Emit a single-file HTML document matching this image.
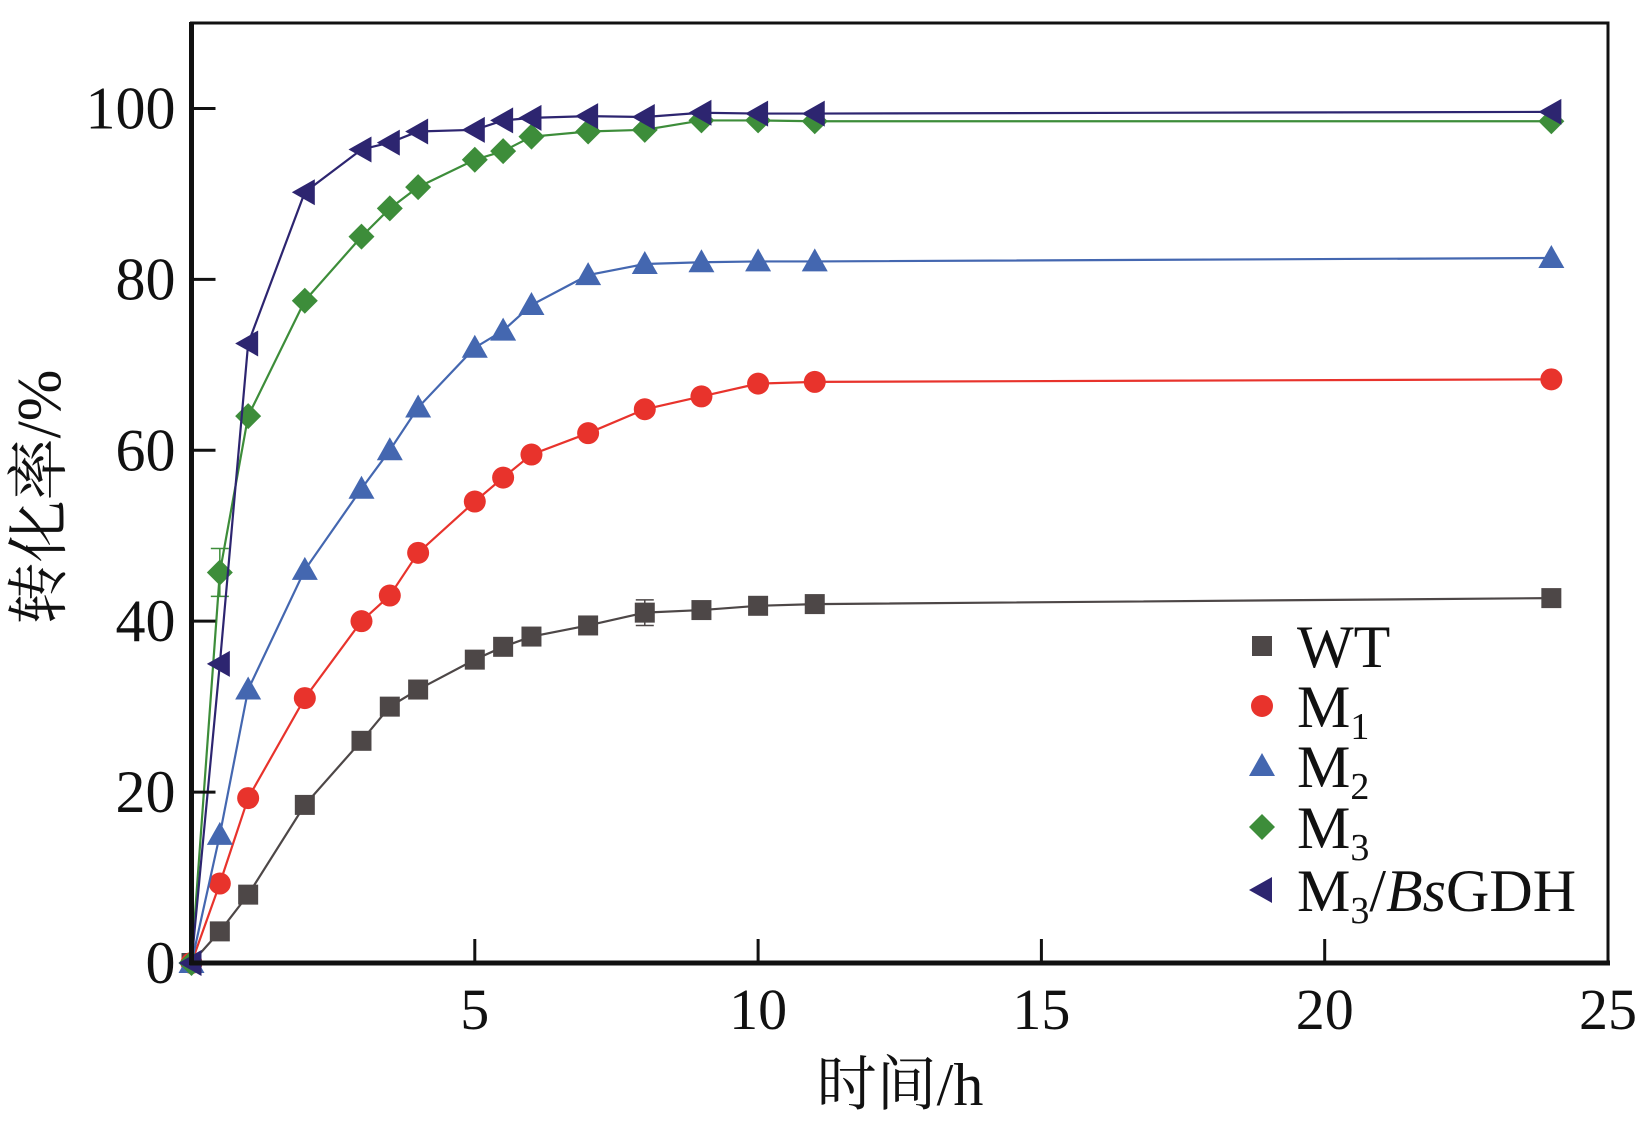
<!DOCTYPE html>
<html><head><meta charset="utf-8"><style>
html,body{margin:0;padding:0;background:#fff;}
svg{display:block;}
text{font-family:"Liberation Serif","Noto Serif CJK SC",serif;fill:#111;}
</style></head><body>
<svg id="chart" width="1651" height="1125" viewBox="0 0 1651 1125" xmlns="http://www.w3.org/2000/svg">
<g id="marks"></g>
<g id="axes"></g>
<g id="legend"></g>
</svg>
<script>
const times = [0,0.5,1,2,3,3.5,4,5,5.5,6,7,8,9,10,11,24];
const wtValues = [0,3.7,8,18.5,26,30,32,35.5,37,38.2,39.5,41,41.3,41.8,42,42.7];
const m1Values = [0,9.3,19.3,31,40,43,48,54,56.8,59.5,62,64.8,66.3,67.8,68,68.3];
const m2Values = [0,15,32,46,55.5,60,65,72,74,77,80.5,81.8,82,82.1,82.1,82.5];
const m3Values = [0,45.7,64,77.5,85,88.3,90.8,94,95,96.7,97.3,97.5,98.6,98.6,98.5,98.5];
const gdhValues = [0,35,72.5,90.2,95.2,96,97.3,97.5,98.6,98.9,99.1,99,99.5,99.4,99.4,99.6];
const wtErrors = [0,0.3,0.4,0.5,0.5,0.5,0.8,0.5,0.5,0.5,0.5,1.5,0.5,0.5,0.5,0.5];
const m3Errors = [0,2.8,0.8,0.5,0.5,0.5,0.5,0.5,0.5,0.5,0.5,0.5,0.5,0.5,0.5,0.5];
const xTicks = [5,10,15,20,25];
const yTicks = [0,20,40,60,80,100];
const legendLabels = ["WT","M1","M2","M3","M3/BsGDH"];

const X0=191.5, X1=1608, Y0=963, YT=23;
const xMin=0,xMax=25,yMin=0,yMax=110;
function sx(v){return X0+(v-xMin)/(xMax-xMin)*(X1-X0);}
function sy(v){return Y0-(v-yMin)/(yMax-yMin)*(Y0-YT);}
const NS="http://www.w3.org/2000/svg";
function mk(tag,attrs,parent){const e=document.createElementNS(NS,tag);for(const k in attrs)e.setAttribute(k,attrs[k]);if(parent)parent.appendChild(e);return e;}
const marks=document.getElementById('marks'),axes=document.getElementById('axes'),legend=document.getElementById('legend');

const series=[
 {name:'wt',vals:wtValues,err:wtErrors,color:'#4d4747',shape:'square'},
 {name:'m1',vals:m1Values,err:null,color:'#e8332c',shape:'circle'},
 {name:'m2',vals:m2Values,err:null,color:'#4467b0',shape:'triangle'},
 {name:'m3',vals:m3Values,err:m3Errors,color:'#3d8d3a',shape:'diamond'},
 {name:'m3-bsgdh',vals:gdhValues,err:null,color:'#2d2570',shape:'left'}
];
function marker(shape,cx,cy,color,parent){
  let e;
  if(shape==='square') e=mk('rect',{x:cx-10,y:cy-10,width:20,height:20,fill:color},parent);
  else if(shape==='circle') e=mk('circle',{cx:cx,cy:cy,r:11,fill:color},parent);
  else if(shape==='triangle') e=mk('polygon',{points:`${cx},${cy-13} ${cx+13},${cy+10} ${cx-13},${cy+10}`,fill:color},parent);
  else if(shape==='diamond') e=mk('polygon',{points:`${cx},${cy-13} ${cx+13},${cy} ${cx},${cy+13} ${cx-13},${cy}`,fill:color},parent);
  else e=mk('polygon',{points:`${cx-13},${cy} ${cx+10},${cy-13} ${cx+10},${cy+13}`,fill:color},parent);
  return e;
}
series.forEach(s=>{
  const g=mk('g',{},marks);
  
  
  const pts=times.map((t,i)=>sx(t)+','+sy(s.vals[i])).join(' ');
  const l=mk('polyline',{points:pts,fill:'none',stroke:s.color,'stroke-width':2.2},g);
  
  
  times.forEach((t,i)=>{
    if(s.err&&s.err[i]>0.9){
      const x=sx(t),a=sy(s.vals[i]+s.err[i]),b=sy(s.vals[i]-s.err[i]);
      const eb=mk('path',{d:`M${x},${a}V${b}M${x-9},${a}H${x+9}M${x-9},${b}H${x+9}`,stroke:s.color,'stroke-width':1.5,fill:'none'},g);
      
      
    }
    const m=marker(s.shape,sx(t),sy(s.vals[i]),s.color,g);
    
    
  });
});

const fr=mk('rect',{x:X0,y:YT,width:X1-X0,height:Y0-YT,fill:'none',stroke:'#111','stroke-width':3},axes);


mk('line',{x1:X0,y1:YT-1,x2:X0,y2:Y0+2,stroke:'#111','stroke-width':5},axes);
mk('line',{x1:X0-2,y1:Y0,x2:X1+2,y2:Y0,stroke:'#111','stroke-width':5},axes);
xTicks.forEach(v=>{
  const t=mk('line',{x1:sx(v),y1:Y0,x2:sx(v),y2:Y0-24,stroke:'#111','stroke-width':3},axes);
  
  
  const lb=mk('text',{x:sx(v),y:Y0+66,'font-size':58,'text-anchor':'middle'},axes);
  lb.textContent=v;
  
  
});
yTicks.forEach(v=>{
  if(v>0){const t=mk('line',{x1:X0,y1:sy(v),x2:X0+24,y2:sy(v),stroke:'#111','stroke-width':3},axes);
  
  }
  const lb=mk('text',{x:X0-16,y:sy(v)+20,'font-size':60,'text-anchor':'end'},axes);
  lb.textContent=v;
  
  
});
const xt=mk('text',{x:900,y:1105,'font-size':60,'text-anchor':'middle'},axes);
xt.textContent='时间/h';


const yt=mk('text',{x:0,y:0,'font-size':62,'text-anchor':'middle',transform:'translate(60,497) rotate(-90)'},axes);
yt.textContent='转化率/%';



const ly=[646,706,766,827,890];
legendLabels.forEach((lab,i)=>{
  const g=mk('g',{},legend);
  
  
  marker(series[i].shape,1262,ly[i],series[i].color,g);
  const t=mk('text',{x:1297,y:ly[i]+21,'font-size':60},g);
  if(i===0){t.textContent='WT';}
  else{
    const a=mk('tspan',{},t);a.textContent='M';
    const b=mk('tspan',{dy:12,'font-size':38},t);b.textContent=String(i<=3?i:3);
    if(i===4){
      const c=mk('tspan',{dy:-12},t);c.textContent='/';
      const d=mk('tspan',{'font-style':'italic'},t);d.textContent='Bs';
      const e=mk('tspan',{},t);e.textContent='GDH';
    }
  }
});
</script>
</body></html>
